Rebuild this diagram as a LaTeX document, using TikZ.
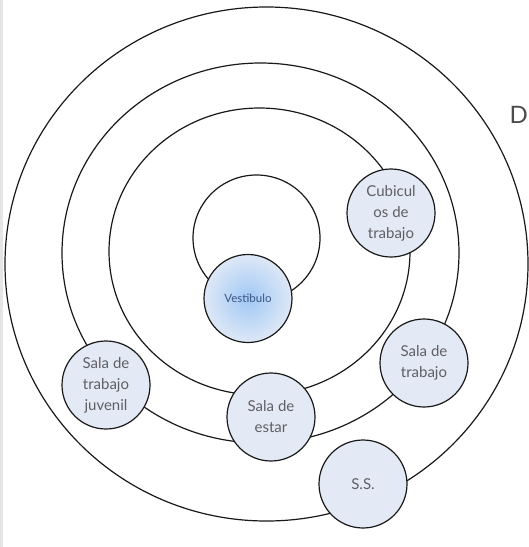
\documentclass[tikz,border=0pt]{standalone}
\usepackage{fontspec}
\setmainfont{Lato}
\usetikzlibrary{shapes.geometric}
\definecolor{roomfill}{RGB}{228,234,245}
\definecolor{roomtext}{RGB}{95,95,100}
\definecolor{vestin}{RGB}{160,200,245}
\definecolor{vestout}{RGB}{222,232,246}
\definecolor{vesttext}{RGB}{60,85,130}
\tikzset{
  ring/.style={draw=black!90, line width=1.2pt, ellipse, inner sep=0pt},
  room/.style={circle, draw=black!90, line width=1.2pt, fill=roomfill, minimum size=88pt, inner sep=0pt, align=center, text=roomtext, font=\fontsize{15}{21}\selectfont},
  vest/.style={room, fill=none, shading=radial, inner color=vestin, outer color=vestout, text=vesttext, font=\fontsize{11.5}{13}\selectfont}
}
\begin{document}
\begin{tikzpicture}[x=1pt,y=-1pt]
\useasboundingbox (0,0) rectangle (529,547);
\fill[white] (0,0) rectangle (529,547);
\fill[black!10] (0,0) rectangle (3,547);
% rings
\node[ring, minimum width=523pt, minimum height=514pt] (r4) at (266.5,264) {};
\node[ring, minimum width=397pt, minimum height=380pt] (r3) at (260.5,253) {};
\node[ring, minimum width=301pt, minimum height=287pt] (r2) at (259.5,251.5) {};
\node[ring, minimum width=127pt, minimum height=126pt] (r1) at (256.5,238) {};
% rooms
\node[vest] (vest) at (248,298.5) {Vestibulo};
\node[room] (cub) at (391,213) {Cubicul\\os de\\trabajo};
\node[room] (st) at (424,363) {Sala de\\trabajo};
\node[room] (stj) at (106,385) {Sala de\\trabajo\\juvenil};
\node[room] (se) at (271,417) {Sala de\\estar};
\node[room] (ss) at (363,484) {S.S.};
% letter at right edge
\node[anchor=east, inner sep=0pt, text=black!70, font=\fontsize{24}{24}\selectfont] (dl) at (528,115) {D};
\end{tikzpicture}
\end{document}
